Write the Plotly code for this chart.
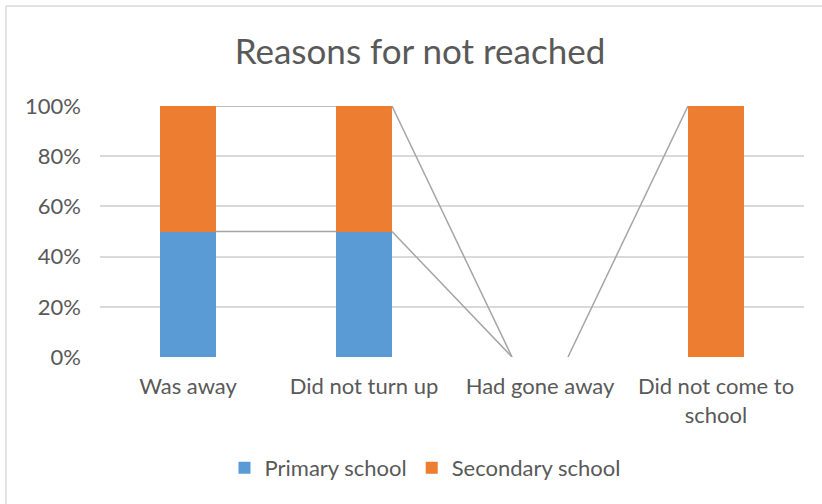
import plotly.graph_objects as go

categories = ["Was away", "Did not turn up", "Had gone away", "Did not come to<br>school"]
primary = [0.5, 0.5, 0.0, 0.0]
secondary = [0.5, 0.5, 0.0, 1.0]
y_ticks = [0, 0.2, 0.4, 0.6, 0.8, 1.0]
y_tick_labels = ["0%", "20%", "40%", "60%", "80%", "100%"]

BLUE = "#5B9BD5"
ORANGE = "#ED7D31"
LINE = "#A5A5A5"
TEXT = "#595959"
FONT = "Lato"
bar_w = 0.318

xs = list(range(len(categories)))
fig = go.Figure()

# series lines connecting cumulative tops (baseline-only segments hidden under the axis)
tops_primary = primary
tops_secondary = [p + s for p, s in zip(primary, secondary)]
for tops in (tops_primary, tops_secondary):
    for i in range(len(xs) - 1):
        if tops[i] == 0 and tops[i + 1] == 0:
            continue
        fig.add_trace(go.Scatter(
            x=[xs[i] + bar_w / 2, xs[i + 1] - bar_w / 2],
            y=[tops[i], tops[i + 1]],
            mode="lines", line=dict(color=LINE, width=1.5),
            showlegend=False, hoverinfo="skip"))

fig.add_trace(go.Bar(x=xs, y=primary, name="Primary school", marker_color=BLUE,
                     width=bar_w, marker_line_width=0))
fig.add_trace(go.Bar(x=xs, y=secondary, name="Secondary school", marker_color=ORANGE,
                     width=bar_w, marker_line_width=0))

H = 251.0
fig.update_layout(
    barmode="stack",
    width=822, height=504,
    margin=dict(l=100, r=18, t=106, b=147),
    paper_bgcolor="white", plot_bgcolor="white",
    font=dict(family=FONT, color=TEXT, size=22),
    title=dict(text="Reasons for not reached", x=(420 - 100) / 704, xref="paper",
               xanchor="center", y=1 - 52 / 504, yref="container", yanchor="middle",
               font=dict(size=35, color=TEXT, family=FONT)),
    xaxis=dict(range=[-0.5, 3.5], tickvals=xs, ticktext=categories, showgrid=False,
               zeroline=False, showline=False, ticks="", ticklabelstandoff=14,
               tickfont=dict(size=22, color=TEXT)),
    yaxis=dict(range=[0, 1], tickvals=y_ticks, ticktext=y_tick_labels, showgrid=True,
               gridcolor="#D9D9D9", gridwidth=1.5, zeroline=False, showline=False,
               ticks="", ticklabelstandoff=18, tickfont=dict(size=22, color=TEXT)),
    legend=dict(orientation="h", x=(425 - 100) / 704, xanchor="center",
                y=(357 - 468) / H, yanchor="middle", font=dict(size=22, color=TEXT),
                traceorder="normal", itemwidth=30),
    shapes=[
        dict(type="line", xref="paper", yref="paper",
             x0=(6 - 100) / 704, x1=(6 - 100) / 704,
             y0=(357 - 504) / H, y1=(357 - 6) / H,
             line=dict(color="#D9D9D9", width=1.5), layer="below"),
        dict(type="line", xref="paper", yref="paper",
             x0=(6 - 100) / 704, x1=(822 - 100) / 704,
             y0=(357 - 6) / H, y1=(357 - 6) / H,
             line=dict(color="#D9D9D9", width=1.5), layer="below"),
    ],
)

fig.write_html("out.html")
